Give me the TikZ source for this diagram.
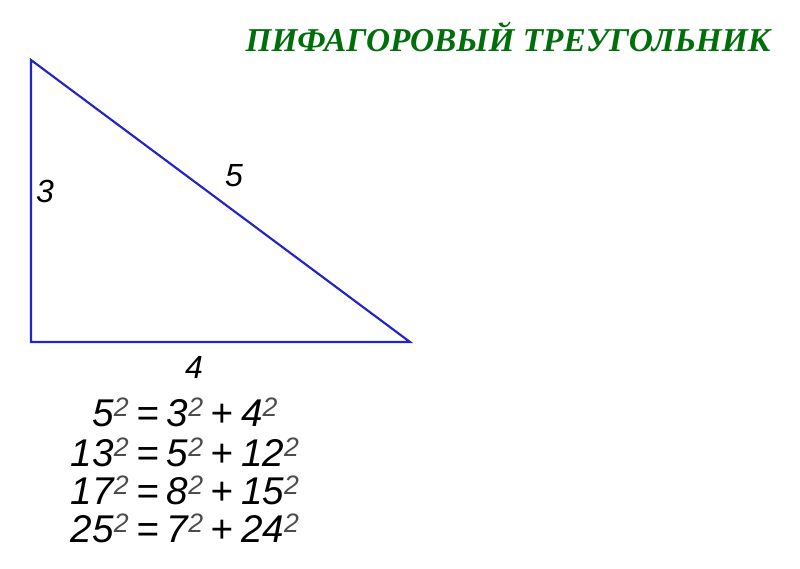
\documentclass[tikz,border=0pt]{standalone}
\usepackage{fontspec}
\setmainfont{Liberation Sans}
\newfontfamily\titlefont{Liberation Serif}
\definecolor{titlegreen}{RGB}{0,110,10}
\definecolor{triblue}{RGB}{35,35,200}
\newcommand{\sqr}{\raisebox{0.5ex}{\fontsize{20pt}{20pt}\selectfont\color{black!70}2}}
\newcommand{\eqs}{\hspace{0.2em}=\hspace{0.2em}}
\newcommand{\pls}{\hspace{0.2em}+\hspace{0.2em}}
\tikzset{
  side/.style={draw=triblue, line width=1.6pt, line join=miter},
  lbl/.style={font=\fontsize{24pt}{24pt}\selectfont\itshape, inner sep=0pt},
  eq/.style={font=\fontsize{29pt}{36pt}\selectfont\itshape, inner sep=0pt, align=center},
  ttl/.style={font=\titlefont\bfseries\itshape\fontsize{25pt}{25pt}\selectfont, text=titlegreen, inner sep=0pt}
}
\begin{document}
\begin{tikzpicture}[x=0.75pt,y=-0.75pt]
\useasboundingbox (0,0) rectangle (800,568);
\fill[white] (0,0) rectangle (800,568);
\coordinate (A) at (31,60);
\coordinate (B) at (31,342);
\coordinate (C) at (410,342);
\draw[side] (A) -- (B) -- (C) -- cycle;
\node[ttl] (title) at (508,37) {ПИФАГОРОВЫЙ ТРЕУГОЛЬНИК};
\node[lbl] (l3) at (45,191) {3};
\node[lbl] (l5) at (234,176) {5};
\node[lbl] (l4) at (194,367) {4};
\node[eq] (e1) at (185,412) {5\sqr\eqs3\sqr\pls4\sqr};
\node[eq] (e2) at (185,452) {13\sqr\eqs5\sqr\pls12\sqr};
\node[eq] (e3) at (185,490) {17\sqr\eqs8\sqr\pls15\sqr};
\node[eq] (e4) at (185,528) {25\sqr\eqs7\sqr\pls24\sqr};
\end{tikzpicture}
\end{document}
